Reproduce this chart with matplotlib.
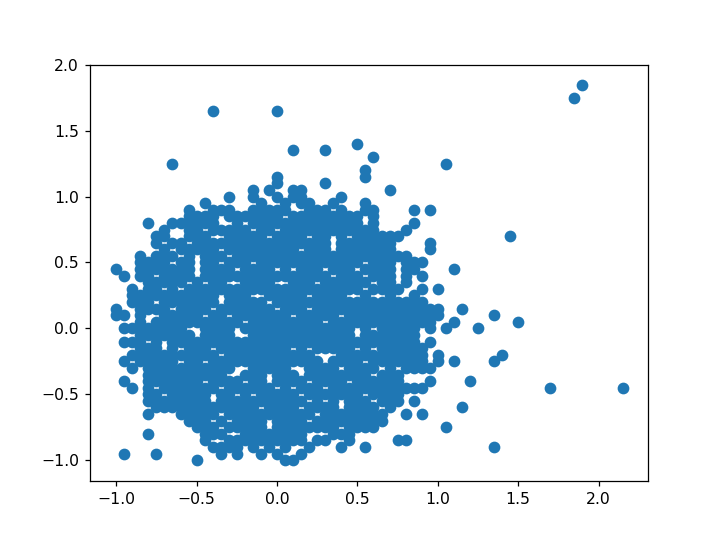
import matplotlib
matplotlib.use("Agg")
import matplotlib.pyplot as plt

r_p185 = [190]
r_p175 = [185]
r_p165 = [-40, 0]
r_p140 = [50]
r_p135 = [10, 30]
r_p130 = [60]
r_p125 = [-65, 105]
r_p120 = [55]
r_p115 = [0, 55]
r_p110 = [0, 30]
r_p105 = [-15, -5, 10, 15, 70]
r_p100 = [-30, -15, 0, 10, 15, 40]
r_p095 = [-45, -10, 5, 15, 20, 35, 55]
r_p090 = [-55, -40, -35, -30, -15, -10, -5, 0, 5, 20, 25, 30, 40, 55, 60, 85, 95]
r_p085 = [-55, -50, -45, -40, -30, -25, -20, -15, -10, -5, 0, 10, 15, 20, 25, 30, 35, 40, 45, 50, 60]
r_p080 = [-80, -65, -60, -55, -50, -45, -40, -25, -15, -10, -5, 0, 5, 10, 15, 20, 25, 30, 35, 40, 45, 50, 60, 85]
r_p075 = [-70, -55, -50, -40, -35, -30, -25, -20, -10, -5, 5, 10, 15, 20, 25, 30, 35, 40, 45, 50, 55, 60, 80]
r_p070 = [-75, -70, -55, -50, -45, -30, -25, -20, -15, -10, 0, 5, 10, 15, 25, 30, 40, 50, 55, 60, 65, 70, 75, 145]
r_p065 = [-75, -65, -60, -50, -45, -40, -35, -30, -25, -20, -15, -10, -5, 0, 5, 10, 15, 20, 25, 30, 40, 45, 50, 55, 60, 65, 70, 95]
r_p060 = [-70, -60, -55, -50, -45, -40, -30, -25, -20, -15, -10, -5, 0, 5, 10, 20, 25, 30, 40, 45, 50, 55, 60, 65, 70, 95]
r_p055 = [-85, -75, -70, -65, -55, -45, -40, -35, -25, -20, -15, -10, -5, 0, 5, 10, 15, 20, 25, 30, 35, 40, 45, 50, 55, 60, 65, 70, 75, 80]
r_p050 = [-85, -80, -75, -70, -60, -55, -45, -40, -30, -25, -20, -10, -5, 0, 5, 10, 15, 20, 25, 30, 35, 40, 45, 50, 60, 65, 70, 80, 85, 90]
r_p045 = [-100, -85, -80, -75, -70, -65, -60, -55, -45, -40, -35, -30, -20, -15, -10, -5, 5, 15, 20, 25, 35, 40, 45, 55, 60, 65, 70, 80, 85, 110]
r_p040 = [-95, -85, -80, -70, -65, -60, -55, -45, -40, -35, -30, -25, -20, -15, -10, -5, 0, 5, 10, 15, 20, 25, 30, 40, 45, 50, 60, 65, 70, 80, 90]
r_p035 = [-80, -75, -70, -65, -60, -50, -40, -35, -20, -15, -10, -5, 10, 15, 20, 30, 35, 40, 45, 50, 55, 65, 70, 80]
r_p030 = [-90, -80, -75, -65, -55, -50, -45, -40, -35, -30, -25, -20, -15, -10, -5, 0, 5, 10, 15, 20, 25, 30, 35, 40, 45, 50, 60, 65, 70, 75, 90, 100]
r_p025 = [-90, -85, -80, -75, -70, -65, -60, -55, -50, -45, -40, -30, -25, -20, -5, 0, 5, 10, 15, 25, 30, 35, 40, 55, 70, 85]
r_p020 = [-90, -85, -80, -70, -65, -60, -55, -50, -45, -40, -30, -25, -20, -15, -10, 0, 5, 10, 15, 20, 25, 30, 35, 40, 45, 50, 55, 60, 65, 70, 75, 80, 85, 90]
r_p015 = [-100, -85, -80, -75, -70, -60, -55, -50, -45, -35, -30, -25, -20, -15, -10, -5, 5, 10, 15, 25, 30, 35, 40, 45, 50, 55, 60, 65, 70, 75, 80, 85, 90, 95, 100, 115]
r_p010 = [-100, -95, -85, -70, -65, -60, -55, -50, -40, -35, -25, -20, -15, -10, -5, 0, 5, 15, 20, 25, 30, 35, 45, 50, 55, 60, 65, 70, 75, 80, 85, 90, 95, 100, 135]
r_p005 = [-85, -75, -70, -65, -60, -55, -50, -45, -40, -35, -30, -25, -15, -10, -5, 0, 5, 10, 15, 20, 25, 35, 40, 45, 50, 55, 60, 65, 70, 75, 80, 85, 90, 95, 110, 150]
r_0000 = [-95, -90, -85, -80, -75, -70, -65, -60, -45, -40, -35, -30, -20, -15, -10, -5, 0, 5, 10, 15, 20, 25, 30, 35, 40, 45, 55, 65, 70, 75, 80, 85, 95, 105, 125]
r_m005 = [-85, -80, -75, -70, -65, -60, -55, -45, -40, -35, -30, -15, -10, -5, 0, 5, 10, 15, 20, 25, 30, 35, 40, 45, 55, 60, 65, 70, 75, 80, 85]
r_m010 = [-95, -90, -85, -75, -65, -60, -55, -50, -45, -40, -35, -30, -25, -20, -15, -10, -5, 0, 5, 10, 15, 20, 25, 30, 35, 40, 45, 50, 55, 60, 65, 70, 75, 80, 85, 95]
r_m015 = [-85, -80, -75, -65, -55, -50, -45, -35, -30, -25, -20, -15, -10, -5, 0, 5, 15, 25, 30, 35, 40, 45, 55, 65, 70, 75, 80, 85, 90]
r_m020 = [-90, -85, -80, -75, -70, -65, -60, -55, -50, -45, -40, -30, -25, -20, -15, -10, -5, 0, 5, 10, 15, 20, 40, 45, 50, 55, 60, 65, 70, 75, 80, 85, 90, 100, 140]
r_m025 = [-95, -85, -80, -75, -70, -65, -55, -50, -40, -35, -30, -25, -20, -15, -10, -5, 0, 5, 10, 15, 20, 25, 35, 40, 45, 50, 60, 65, 70, 75, 80, 85, 90, 100, 110, 135]
r_m030 = [-90, -80, -75, -70, -65, -60, -55, -50, -45, -40, -35, -30, -15, -10, -5, 0, 5, 20, 25, 30, 35, 45, 50, 55, 60, 70, 80, 85, 90, 95]
r_m035 = [-80, -75, -70, -65, -60, -55, -50, -45, -40, -35, -20, -15, -10, 0, 5, 10, 20, 25, 30, 35, 40, 45, 50, 55, 65, 70, 75]
r_m040 = [-95, -80, -75, -70, -65, -60, -55, -50, -40, -35, -30, -25, -15, -10, 0, 5, 10, 15, 25, 30, 35, 40, 50, 55, 60, 65, 70, 75, 95, 120]
r_m045 = [-90, -80, -70, -65, -60, -55, -50, -45, -40, -30, -25, -20, -15, -10, -5, 5, 15, 20, 25, 35, 40, 45, 50, 55, 60, 65, 70, 75, 80, 85, 90, 170, 215]
r_m050 = [-80, -75, -65, -60, -55, -50, -45, -35, -30, -20, -10, -5, 0, 5, 10, 20, 25, 30, 35, 40, 45, 50, 60, 65, 70, 75]
r_m055 = [-80, -75, -70, -65, -60, -55, -50, -45, -35, -30, -25, -20, -15, -10, -5, 0, 5, 10, 15, 25, 35, 45, 50, 55, 65, 70, 75, 85]
r_m060 = [-75, -70, -65, -60, -55, -50, -45, -40, -35, -30, -25, -20, -15, -5, 0, 5, 10, 20, 25, 30, 35, 45, 50, 55, 60, 70, 115]
r_m065 = [-80, -60, -55, -50, -45, -40, -30, -25, -20, -15, -10, -5, 0, 5, 10, 15, 20, 30, 35, 40, 45, 50, 55, 60, 65, 80, 90]
r_m070 = [-55, -50, -45, -35, -25, -20, -15, -10, 0, 5, 10, 15, 25, 30, 35, 40, 45, 50, 55, 60, 65]
r_m075 = [-50, -45, -40, -30, -25, -20, -15, -10, 0, 5, 10, 15, 20, 25, 30, 35, 45, 50, 55, 60, 105]
r_m080 = [-80, -45, -40, -35, -20, -15, -10, -5, 0, 5, 10, 15, 35, 40, 45]
r_m085 = [-45, -30, -25, -20, -15, -10, -5, 0, 5, 10, 15, 25, 30, 45, 75, 80]
r_m090 = [-40, -35, -30, -25, -15, -5, 5, 20, 40, 55, 135]
r_m095 = [-95, -75, -35, -25, -10, 0, 15]
r_m100 = [-50, 5, 10]

y_levels = [185, 175, 165, 140, 135, 130, 125, 120, 115, 110, 105, 100, 95, 90, 85, 80, 75, 70, 65, 60,
            55, 50, 45, 40, 35, 30, 25, 20, 15, 10, 5, 0, -5, -10, -15, -20, -25, -30, -35, -40, -45,
            -50, -55, -60, -65, -70, -75, -80, -85, -90, -95, -100]
x_rows = [r_p185, r_p175, r_p165, r_p140, r_p135, r_p130, r_p125, r_p120, r_p115, r_p110, r_p105, r_p100,
          r_p095, r_p090, r_p085, r_p080, r_p075, r_p070, r_p065, r_p060, r_p055, r_p050, r_p045, r_p040,
          r_p035, r_p030, r_p025, r_p020, r_p015, r_p010, r_p005, r_0000, r_m005, r_m010, r_m015, r_m020,
          r_m025, r_m030, r_m035, r_m040, r_m045, r_m050, r_m055, r_m060, r_m065, r_m070, r_m075, r_m080,
          r_m085, r_m090, r_m095, r_m100]

xs, ys = [], []
for level, row in zip(y_levels, x_rows):
    for value in row:
        xs.append(value / 100)
        ys.append(level / 100)

fig, ax = plt.subplots(figsize=(6.4, 4.8), dpi=112.5)
ax.scatter(xs, ys, linewidths=1.5)
ax.set_xlim(-1.163, 2.3075)
ax.set_ylim(-1.155, 2.0)
fig.savefig("out.png", dpi=112.5)
